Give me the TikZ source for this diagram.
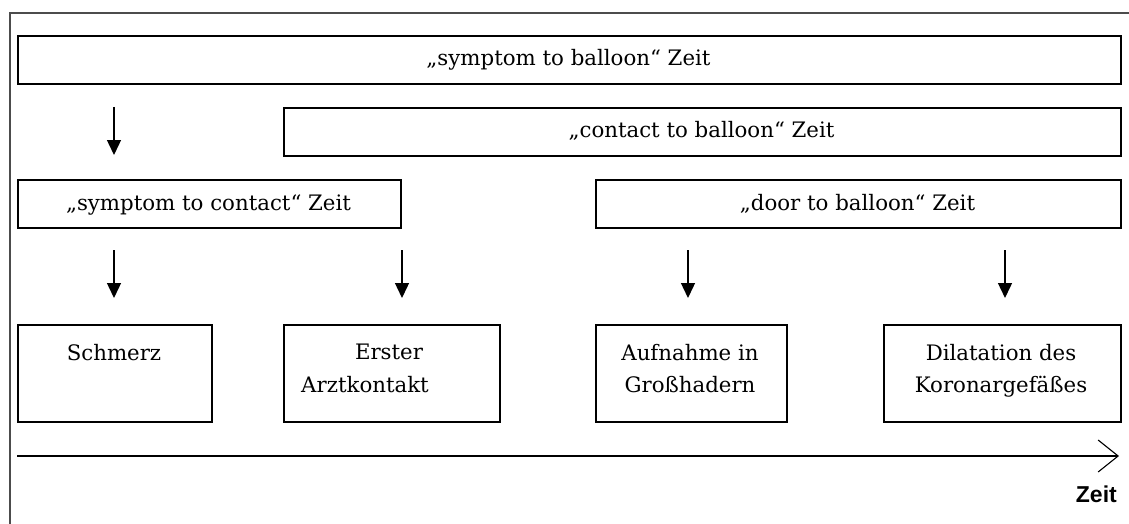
\documentclass[tikz,border=0pt]{standalone}
\usepackage{fontspec}
\setmainfont{DejaVu Serif}
\newfontfamily\labelsans{Liberation Sans}
\usetikzlibrary{arrows.meta}
\begin{document}
\begin{tikzpicture}[x=1pt,y=-1pt,
  frameline/.style={draw=black!70, line width=2.2pt},
  box/.style={draw=black, line width=1.6pt, inner sep=0pt, anchor=north west},
  lbl/.style={anchor=base, inner sep=0pt, font=\fontsize{21.3}{25}\selectfont},
  down/.style={line width=1.4pt, -{Triangle[length=15pt,width=14pt]}},
  timeaxis/.style={line width=1.4pt, -{Straight Barb[length=20pt,width=32pt,line width=1.1pt]}}]
\useasboundingbox (0,0) rectangle (1129,524);

% open frame round the scheme
\draw[frameline] (10,524) -- (10,13) -- (1129,13);

% interval bars
\node[box, minimum width=1103pt, minimum height=48pt] (b1) at (17,35) {};
\node[box, minimum width=837pt, minimum height=48pt] (b2) at (283,107) {};
\node[box, minimum width=383pt, minimum height=48pt] (b3) at (17,179) {};
\node[box, minimum width=525pt, minimum height=48pt] (b4) at (595,179) {};

\node[lbl] (t1) at (568.5,66) {„symptom to balloon“ Zeit};
\node[lbl] (t2) at (701.5,138) {„contact to balloon“ Zeit};
\node[lbl] (t3) at (208.5,210) {„symptom to contact“ Zeit};
\node[lbl] (t4) at (857.5,210) {„door to balloon“ Zeit};

% events
\node[box, minimum width=194pt, minimum height=97pt] (e1) at (17,324) {};
\node[box, minimum width=216pt, minimum height=97pt] (e2) at (283,324) {};
\node[box, minimum width=191pt, minimum height=97pt] (e3) at (595,324) {};
\node[box, minimum width=237pt, minimum height=97pt] (e4) at (883,324) {};

\node[lbl] (s1) at (114,360) {Schmerz};
\node[lbl] (s2a) at (389,359) {Erster};
\node[lbl] (s2b) at (365,392) {Arztkontakt};
\node[lbl] (s3a) at (690,360) {Aufnahme in};
\node[lbl] (s3b) at (690,392) {Großhadern};
\node[lbl] (s4a) at (1001,360) {Dilatation des};
\node[lbl] (s4b) at (1001,392) {Koronargefäßes};

% arrows
\coordinate (a0s) at (114,107); \coordinate (a0e) at (114,155);
\coordinate (a1s) at (114,250); \coordinate (a1e) at (114,298);
\coordinate (a2s) at (402,250); \coordinate (a2e) at (402,298);
\coordinate (a3s) at (688,250); \coordinate (a3e) at (688,298);
\coordinate (a4s) at (1005,250); \coordinate (a4e) at (1005,298);
\draw[down] (a0s) -- (a0e);
\draw[down] (a1s) -- (a1e);
\draw[down] (a2s) -- (a2e);
\draw[down] (a3s) -- (a3e);
\draw[down] (a4s) -- (a4e);

% time axis
\coordinate (ax0) at (17,456);
\coordinate (ax1) at (1119,456);
\draw[timeaxis] (ax0) -- (ax1);
\node[anchor=base east, inner sep=0pt, font=\labelsans\bfseries\fontsize{23}{26}\selectfont] (zt) at (1117,502) {Zeit};
\end{tikzpicture}
\end{document}
